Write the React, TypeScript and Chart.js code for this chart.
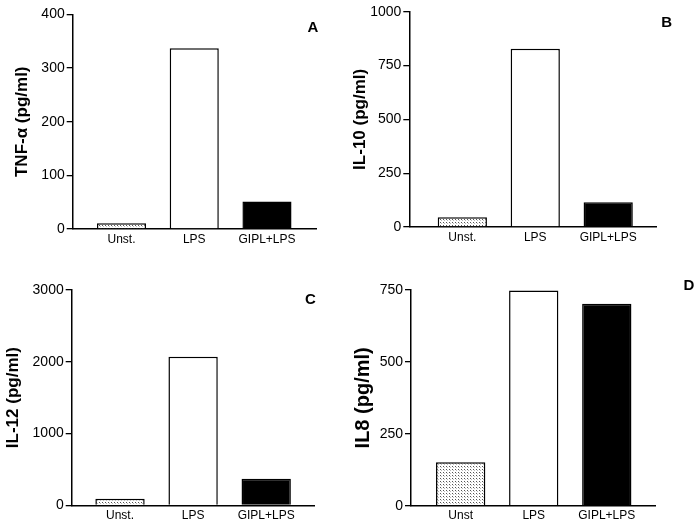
import React, { useEffect, useRef } from "react";
import { Chart, registerables } from "chart.js";

Chart.register(...registerables);

// ---- data ----
const categoriesABC = ["Unst.", "LPS", "GIPL+LPS"];
const categoriesD = ["Unst", "LPS", "GIPL+LPS"];
const tnfValues = [10.6, 337, 51.5];
const il10Values = [45, 828, 115];
const il12Values = [92, 2071, 371];
const il8Values = [151, 748, 702];
const yTitles = ["TNF-α (pg/ml)", "IL-10 (pg/ml)", "IL-12 (pg/ml)", "IL8 (pg/ml)"];
const panelLetters = ["A", "B", "C", "D"];
const yMaxes = [400, 1000, 3000, 750];
const ySteps = [100, 250, 1000, 250];

const FONT = "'Liberation Sans', Arial, Helvetica, sans-serif";
const W = 350;
const H = 262;

// layout per panel (chart area within each 350x262 canvas)
const layouts = [
  { left: 72.7, right: 316, top: 14.5, bottom: 229, xMin: -0.671, xMax: 2.674, titlePad: 12, titleSize: 17, ldx: -3, ldy: 13 },
  { left: 59.3, right: 306.7, top: 11.7, bottom: 227, xMin: -0.727, xMax: 2.665, titlePad: 0, titleSize: 17, ldx: 10, ldy: 11 },
  { left: 71.7, right: 314, top: 28, bottom: 243.3, xMin: -0.661, xMax: 2.654, titlePad: 3.5, titleSize: 17, ldx: -3.5, ldy: 10 },
  { left: 61, right: 305, top: 28, bottom: 243.7, xMin: -0.68, xMax: 2.66, titlePad: 1, titleSize: 20, ldx: 34, ldy: -4 },
];

function makePattern(): CanvasPattern | string {
  const c = document.createElement("canvas");
  c.width = 3;
  c.height = 3;
  const g = c.getContext("2d");
  if (!g) return "#ddd";
  g.fillStyle = "#ffffff";
  g.fillRect(0, 0, 3, 3);
  g.fillStyle = "#555555";
  g.fillRect(0, 0, 1, 1);
  g.fillStyle = "#bbbbbb";
  g.fillRect(1, 1, 1, 1);
  const p = g.createPattern(c, "repeat");
  return p || "#ddd";
}

function Panel({ idx, values, cats }: { idx: number; values: number[]; cats: string[] }) {
  const ref = useRef<HTMLCanvasElement | null>(null);
  useEffect(() => {
    if (!ref.current) return;
    const L = layouts[idx];
    const pattern = makePattern();
    const letterPlugin = {
      id: "panelLetter",
      afterDraw(chart: any) {
        const { ctx, chartArea } = chart;
        ctx.save();
        ctx.font = `bold 15px ${FONT}`;
        ctx.fillStyle = "#000";
        ctx.textAlign = "center";
        ctx.textBaseline = "middle";
        ctx.fillText(panelLetters[idx], chartArea.right + L.ldx, chartArea.top + L.ldy);
        ctx.restore();
      },
    };
    const chart = new Chart(ref.current, {
      type: "bar",
      data: {
        datasets: [
          {
            data: values.map((v, i) => ({ x: i, y: v })),
            backgroundColor: [pattern, "#ffffff", "#000000"] as any,
            borderColor: "#000",
            borderWidth: 1.5,
            barPercentage: 0.675,
            categoryPercentage: 1,
          },
        ],
      },
      options: {
        responsive: false,
        animation: false,
        layout: { padding: { left: 0, top: L.top, right: W - L.right, bottom: 0 } },
        plugins: { legend: { display: false }, tooltip: { enabled: false } },
        scales: {
          x: {
            type: "linear",
            offset: false,
            min: L.xMin,
            max: L.xMax,
            grid: { display: false, drawTicks: false, tickLength: 0, offset: false },
            border: { display: true, color: "#000", width: 1.5 },
            afterBuildTicks: (s: any) => {
              s.ticks = cats.map((_, i) => ({ value: i }));
            },
            afterFit: (s: any) => {
              s.height = H - L.bottom;
            },
            ticks: {
              callback: (v: any) => cats[Math.round(Number(v))] ?? "",
              color: "#000",
              font: { family: FONT, size: 12 },
              padding: 3,
              maxRotation: 0,
              autoSkip: false,
            },
          },
          y: {
            min: 0,
            max: yMaxes[idx],
            ticks: {
              stepSize: ySteps[idx],
              color: "#000",
              font: { family: FONT, size: 14 },
              padding: 2,
              callback: (v: any) => String(v),
            },
            grid: { drawOnChartArea: false, drawTicks: true, tickLength: 6, color: "#000", lineWidth: 1.3 },
            border: { display: true, color: "#000", width: 1.5 },
            title: {
              display: true,
              text: yTitles[idx],
              color: "#000",
              font: { family: FONT, size: L.titleSize, weight: "bold" },
              padding: { top: L.titlePad, bottom: 0 },
            },
            afterFit: (s: any) => {
              s.width = L.left;
            },
          },
        },
      } as any,
      plugins: [letterPlugin],
    });
    return () => chart.destroy();
  }, [idx, values, cats]);
  return <canvas ref={ref} width={W} height={H} style={{ display: "block", width: W, height: H }} />;
}

export default function App() {
  const panels = [
    { values: tnfValues, cats: categoriesABC },
    { values: il10Values, cats: categoriesABC },
    { values: il12Values, cats: categoriesABC },
    { values: il8Values, cats: categoriesD },
  ];
  return (
    <div style={{ position: "fixed", left: 0, top: 0, width: 700, height: 524, background: "#fff" }}>
      {panels.map((p, i) => (
        <div
          key={i}
          style={{ position: "absolute", left: (i % 2) * W, top: Math.floor(i / 2) * H, width: W, height: H }}
        >
          <Panel idx={i} values={p.values} cats={p.cats} />
        </div>
      ))}
    </div>
  );
}
